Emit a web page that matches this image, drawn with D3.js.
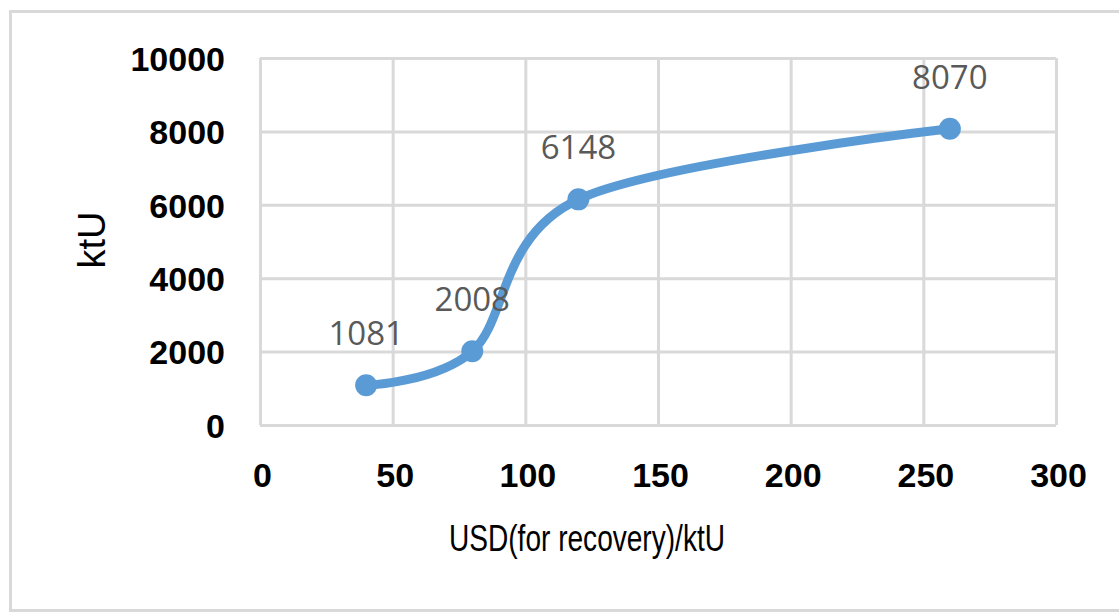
<!DOCTYPE html>
<html>
<head>
<meta charset="utf-8">
<script src="https://cdn.jsdelivr.net/npm/d3@7"></script>
<style>
  body { margin: 0; background: #fff; }
  svg { display: block; }
</style>
</head>
<body>
<div class="chart"></div>
<script>
// data
const costs = [40, 80, 120, 260]
const amounts = [1081, 2008, 6148, 8070]
const xTicks = [0, 50, 100, 150, 200, 250, 300]
const yTicks = [0, 2000, 4000, 6000, 8000, 10000]
const xTitle = 'USD(for recovery)/ktU'
const yTitle = 'ktU'

const points = costs.map((c, i) => ({x: c, y: amounts[i]}))

const width = 1119
const height = 612
const plot = {left: 260, right: 1056, top: 58, bottom: 425}

const x = d3.scaleLinear().domain([0, 300]).range([plot.left, plot.right])
const y = d3.scaleLinear().domain([0, 10000]).range([plot.bottom, plot.top])

const svg = d3.select('.chart')
  .append('svg')
    .attr('width', width)
    .attr('height', height)

svg.append('rect')
    .attr('width', width)
    .attr('height', height)
    .attr('fill', '#fff')

// outer chart border
svg.append('rect')
    .attr('x', 10.5)
    .attr('y', 11.5)
    .attr('width', 1130)
    .attr('height', 599)
    .attr('fill', 'none')
    .attr('stroke', '#d9d9d9')
    .attr('stroke-width', 3)

// gridlines
const xAxisGrid = d3.axisBottom(x).tickValues(xTicks).tickSize(-(plot.bottom - plot.top)).tickFormat('')
const yAxisGrid = d3.axisLeft(y).tickValues(yTicks).tickSize(-(plot.right - plot.left)).tickFormat('')

svg.append('g')
    .attr('transform', `translate(0,${plot.bottom})`)
    .call(xAxisGrid)
    .call((g) => g.select('.domain').remove())
    .call((g) => g.selectAll('line').attr('stroke', '#d9d9d9').attr('stroke-width', 3))

svg.append('g')
    .attr('transform', `translate(${plot.left},0)`)
    .call(yAxisGrid)
    .call((g) => g.select('.domain').remove())
    .call((g) => g.selectAll('line').attr('stroke', '#d9d9d9').attr('stroke-width', 3))

// tick labels
const xAxis = d3.axisBottom(x).tickValues(xTicks).tickSize(0).tickPadding(0).tickFormat(d3.format('d'))
const yAxis = d3.axisLeft(y).tickValues(yTicks).tickSize(0).tickPadding(0).tickFormat(d3.format('d'))

svg.append('g')
    .attr('transform', `translate(2,${plot.bottom + 62})`)
    .call(xAxis)
    .call((g) => g.select('.domain').remove())
  .selectAll('text')
    .attr('dy', 0)
    .attr('font-family', '"Liberation Sans", Arial, sans-serif')
    .attr('font-weight', 'bold')
    .attr('font-size', 34)
    .attr('fill', '#000')

svg.append('g')
    .attr('transform', `translate(225,0)`)
    .call(yAxis)
    .call((g) => g.select('.domain').remove())
  .selectAll('text')
    .attr('dy', '0.36em')
    .attr('font-family', '"Liberation Sans", Arial, sans-serif')
    .attr('font-weight', 'bold')
    .attr('font-size', 34)
    .attr('fill', '#000')

// axis titles
svg.append('text')
    .attr('x', 449)
    .attr('y', 551)
    .attr('textLength', 276)
    .attr('lengthAdjust', 'spacingAndGlyphs')
    .attr('font-family', '"Liberation Sans Narrow", "Liberation Sans", sans-serif')
    .attr('font-size', 37)
    .attr('fill', '#000')
    .text(xTitle)

svg.append('text')
    .attr('transform', 'translate(105,240) rotate(-90)')
    .attr('text-anchor', 'middle')
    .attr('font-family', '"Liberation Sans", Arial, sans-serif')
    .attr('font-size', 38)
    .attr('fill', '#000')
    .text(yTitle)

// smoothed line (Excel-style uniform Catmull-Rom)
const line = d3.line()
  .x((d) => x(d.x))
  .y((d) => y(d.y))
  .curve(d3.curveCatmullRom.alpha(0))

svg.append('path')
    .datum(points)
    .attr('d', line)
    .attr('fill', 'none')
    .attr('stroke', '#5b9bd5')
    .attr('stroke-width', 9)
    .attr('stroke-linecap', 'round')

svg.selectAll('circle.pt')
    .data(points)
  .enter().append('circle')
    .attr('class', 'pt')
    .attr('cx', (d) => x(d.x))
    .attr('cy', (d) => y(d.y))
    .attr('r', 11)
    .attr('fill', '#5b9bd5')

// data labels
svg.selectAll('text.lbl')
    .data(points)
  .enter().append('text')
    .attr('class', 'lbl')
    .attr('x', (d) => x(d.x))
    .attr('y', (d) => y(d.y) - 40)
    .attr('text-anchor', 'middle')
    .attr('font-family', '"Open Sans", sans-serif')
    .attr('font-size', 33)
    .attr('fill', '#595959')
    .text((d) => d.y)
</script>
</body>
</html>
